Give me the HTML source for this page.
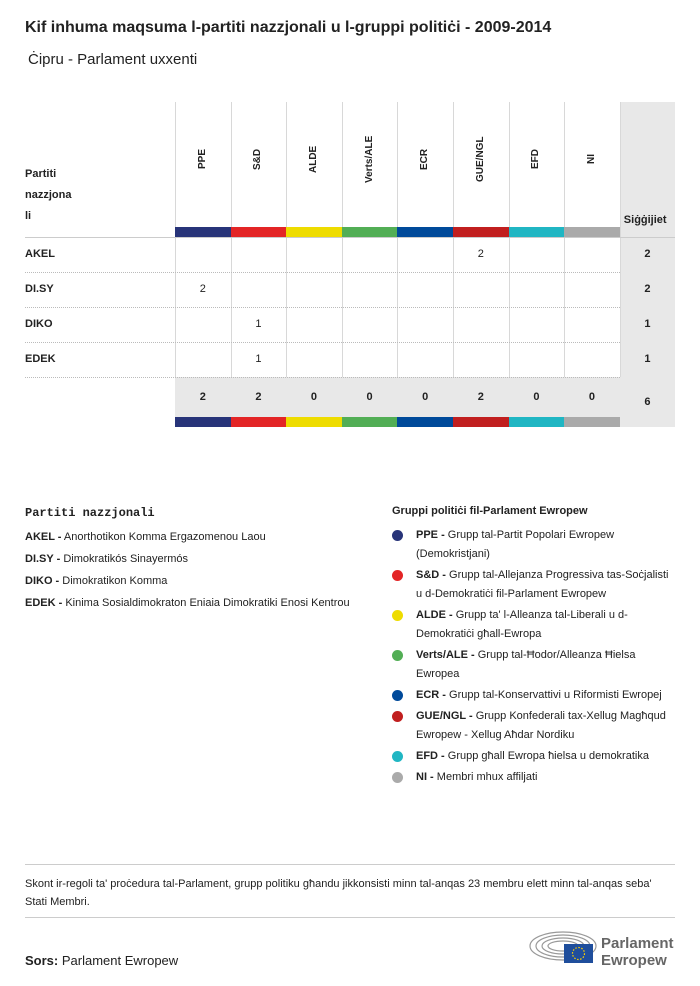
<!DOCTYPE html>
<html><head><meta charset="utf-8"><style>
body{margin:0;width:700px;height:986px;background:#fff;font-family:"Liberation Sans",sans-serif;color:#222;position:relative;overflow:hidden}
.a{position:absolute}
.t{font-size:11px}
.b{font-weight:bold}
.vl{position:absolute;width:1px;background:#d8d8d8}
.rot{position:absolute;transform:rotate(-90deg);transform-origin:left top;font-size:10px;font-weight:bold;white-space:nowrap}
</style></head><body>
<div class="a b" style="left:25px;top:19px;font-size:16px">Kif inhuma maqsuma l-partiti nazzjonali u l-gruppi politiċi - 2009-2014</div>
<div class="a" style="left:28px;top:51px;font-size:15px">Ċipru - Parlament uxxenti</div>
<div id="tbl"></div>

<div class="a" style="left:25px;top:502px;width:330px;font-size:11px;line-height:22px">
<div style="font-family:'Liberation Mono',monospace;font-weight:bold;font-size:12px;margin-bottom:2px">Partiti nazzjonali</div>
<div><b>AKEL -</b> Anorthotikon Komma Ergazomenou Laou</div>
<div><b>DI.SY -</b> Dimokratikós Sinayermós</div>
<div><b>DIKO -</b> Dimokratikon Komma</div>
<div><b>EDEK -</b> Kinima Sosialdimokraton Eniaia Dimokratiki Enosi Kentrou</div>
</div>
<div class="a" style="left:392px;top:502px;width:282px;font-size:11px;line-height:19px">
<div class="b" style="margin-bottom:5px">Gruppi politiċi fil-Parlament Ewropew</div>
<div id="gl"></div>
</div>

<div class="a" style="left:25px;top:864px;width:650px;height:1px;background:#ccc"></div>
<div class="a t" style="left:25px;top:875px;width:650px;line-height:18px">Skont ir-regoli ta' proċedura tal-Parlament, grupp politiku għandu jikkonsisti minn tal-anqas 23 membru elett minn tal-anqas seba' Stati Membri.</div>
<div class="a" style="left:25px;top:917px;width:650px;height:1px;background:#ccc"></div>
<div class="a" style="left:25px;top:953px;font-size:13px"><b>Sors:</b> Parlament Ewropew</div>
<svg class="a" style="left:528px;top:928px" width="150" height="40">
<g fill="none" stroke="#999" stroke-width="1.2">
<ellipse cx="35" cy="18" rx="33" ry="14"/><ellipse cx="35" cy="18" rx="27" ry="11"/><ellipse cx="35" cy="18" rx="21" ry="8"/><ellipse cx="35" cy="18" rx="15" ry="5"/></g>
<rect x="36" y="16" width="29" height="19" fill="#1f4e9c"/>
<circle cx="50.5" cy="25.5" r="6" fill="none" stroke="#ffd200" stroke-width="1.2" stroke-dasharray="1.5 1.6"/>
<text x="73" y="20" font-size="15" font-weight="bold" fill="#666" font-family="Liberation Sans">Parlament</text>
<text x="73" y="37" font-size="15" font-weight="bold" fill="#666" font-family="Liberation Sans">Ewropew</text>
</svg>

<script>
const groups=["PPE","S&D","ALDE","Verts/ALE","ECR","GUE/NGL","EFD","NI"];
const colors=["#283479","#e32526","#eedc00","#52ae55","#004a9a","#c11f1f","#20b6c3","#aaaaaa"];
const parties=["AKEL","DI.SY","DIKO","EDEK"];
const seats=[[0,0,0,0,0,2,0,0],[2,0,0,0,0,0,0,0],[0,1,0,0,0,0,0,0],[0,1,0,0,0,0,0,0]];
const descs=["Grupp tal-Partit Popolari Ewropew (Demokristjani)","Grupp tal-Allejanza Progressiva tas-Soċjalisti u d-Demokratiċi fil-Parlament Ewropew","Grupp ta' l-Alleanza tal-Liberali u d-Demokratiċi għall-Ewropa","Grupp tal-Ħodor/Alleanza Ħielsa Ewropea","Grupp tal-Konservattivi u Riformisti Ewropej","Grupp Konfederali tax-Xellug Magħqud Ewropew - Xellug Aħdar Nordiku","Grupp għall Ewropa ħielsa u demokratika","Membri mhux affiljati"];
const T=document.getElementById('tbl');
const x0=175,cw=55.6,ytop=102,hb=227,r0=237,rh=35,tot=377,th=40;
function el(css,html,name){const d=document.createElement('div');d.className='a';d.style.cssText=css;if(html!==undefined)d.innerHTML=html;


T.appendChild(d);return d;}
const xe=x0+cw*8;
el(`left:${xe}px;top:${ytop}px;width:${675-xe}px;height:${tot+th+10-ytop}px;background:#e8e8e8`,'','total-column-bg');
el(`left:${x0}px;top:${tot}px;width:${xe-x0}px;height:${th}px;background:#e8e8e8`,'','totals-row-bg');
el(`left:25px;top:164px;font-size:11px;font-weight:bold;line-height:21px`,'Partiti<br>nazzjona<br>li','party-header');
el(`left:${xe+4}px;top:214px;font-size:11px;font-weight:bold`,'Siġġijiet','seats-header');
for(let i=0;i<=8;i++){const v=document.createElement('div');v.className='vl';v.style.cssText=`left:${x0+cw*i}px;top:${ytop}px;height:${tot-ytop}px`;


T.appendChild(v);}
groups.forEach((g,i)=>{
 const r=el('', g,'group-header');r.className='rot';r.style.left=(x0+cw*i+cw/2-6)+'px';
 r.style.top='0px';
 const w=r.offsetWidth;r.style.top=(159+w/2)+'px';
 el(`left:${x0+cw*i}px;top:${hb}px;width:${cw}px;height:10px;background:${colors[i]}`,'','group-color-bar');
 el(`left:${x0+cw*i}px;top:${tot+th}px;width:${cw}px;height:10px;background:${colors[i]}`,'','group-color-bar-bottom');
 let s=0;seats.forEach(r=>s+=r[i]);
 el(`left:${x0+cw*i}px;top:${tot+14}px;width:${cw}px;text-align:center;font-size:11px;font-weight:bold`,s,'group-total');
});
el(`left:25px;top:${r0}px;width:650px;height:1px;background:#ccc`,'','header-line');
let grand=0;
parties.forEach((p,j)=>{
 const y=r0+rh*j;
 el(`left:25px;top:${y+11}px;font-size:11px;font-weight:bold`,p,'party-label');
 el(`left:25px;top:${y+rh}px;width:595px;border-top:1px dotted #bbb`,'','row-line');
 let s=0;
 seats[j].forEach((v,i)=>{s+=v;if(v)el(`left:${x0+cw*i}px;top:${y+11}px;width:${cw}px;text-align:center;font-size:11px`,v,'seat-cell');});
 grand+=s;
 el(`left:${xe}px;top:${y+11}px;width:${675-xe}px;text-align:center;font-size:11px;font-weight:bold`,s,'party-total');
});
el(`left:${xe}px;top:${tot+19}px;width:${675-xe}px;text-align:center;font-size:11px;font-weight:bold`,grand,'grand-total');
const GL=document.getElementById('gl');
groups.forEach((g,i)=>{const d=document.createElement('div');d.style.cssText='position:relative;padding-left:24px;margin-bottom:2px';
d.innerHTML=`<span style="position:absolute;left:0;top:4px;width:11px;height:11px;border-radius:50%;background:${colors[i]}"></span><b>${g} -</b> ${descs[i]}`;


GL.appendChild(d);});
</script>
</body></html>
